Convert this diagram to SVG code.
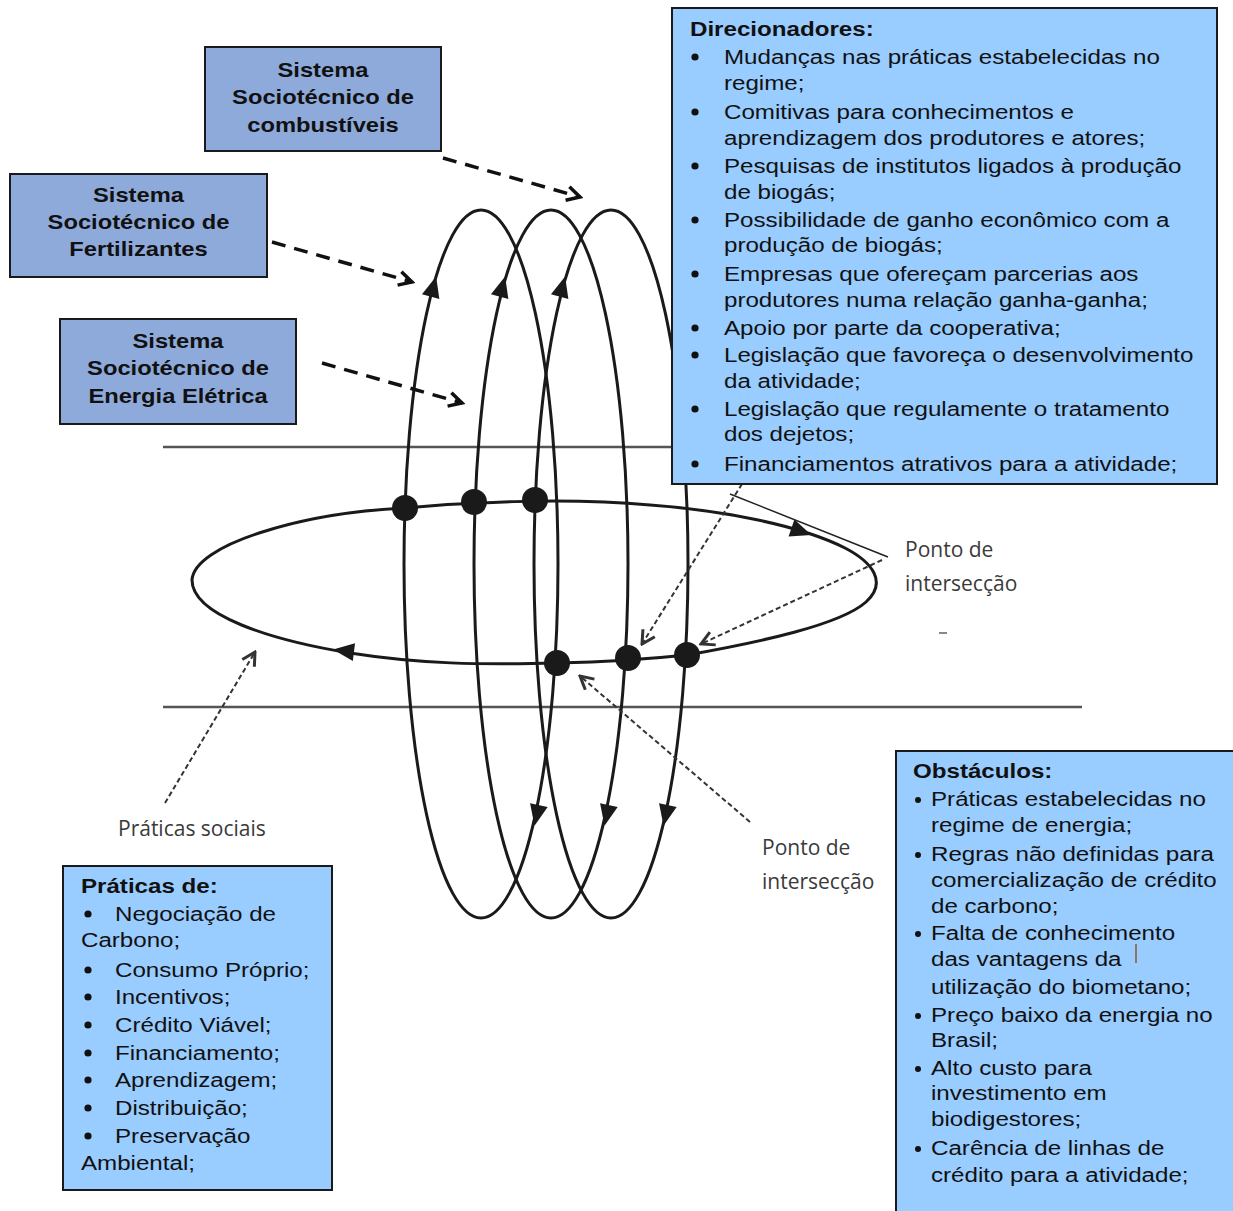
<svg xmlns="http://www.w3.org/2000/svg" xmlns:xlink="http://www.w3.org/1999/xlink" width="1233" height="1211" viewBox="0 0 1233 1211">
<style>
.sys{fill:#8EAADB;stroke:#1a1a1a;stroke-width:2}
.info{fill:#99CCFF;stroke:#1a1a1a;stroke-width:2}
.st{font-family:"Liberation Sans",Arial,sans-serif;font-size:21px;font-weight:bold;fill:#111;text-anchor:middle}
.tx{font-family:"Liberation Sans",Arial,sans-serif;font-size:21px;fill:#111}
.tb{font-family:"Liberation Sans",Arial,sans-serif;font-size:21px;font-weight:bold;fill:#111}
.lb{font-family:"Open Sans","Noto Sans",sans-serif;font-size:21px;fill:#3a3a3a}
.loop{fill:none;stroke:#1a1a1a;stroke-width:3}
.hline{stroke:#555;stroke-width:2.5}
.bigdash{fill:none;stroke:#111;stroke-width:3.5;stroke-dasharray:14 9;marker-end:url(#chevBig)}
.thindash{fill:none;stroke:#333;stroke-width:2;stroke-dasharray:5 3;marker-end:url(#chev)}
.dot{fill:#1a1a1a}
.bul{fill:#111}
</style>
<defs>
<marker id="chevBig" viewBox="0 0 20 20" refX="17" refY="10" markerWidth="20" markerHeight="20" markerUnits="userSpaceOnUse" orient="auto">
<path d="M4,3 L17,10 L4,17" fill="none" stroke="#111" stroke-width="3.5" stroke-dasharray="none"/>
</marker>
<marker id="chev" viewBox="0 0 18 18" refX="16" refY="9" markerWidth="18" markerHeight="18" markerUnits="userSpaceOnUse" orient="auto">
<path d="M3,2 L16,9 L3,16" fill="none" stroke="#333" stroke-width="3" stroke-dasharray="none"/>
</marker>
<path id="tri" d="M0,-12 L9,9 L-9,9 Z" fill="#1a1a1a"/>
</defs>
<rect width="1233" height="1211" fill="#fff"/>

<g id="plane-lines">
<line class="hline" x1="163" y1="447" x2="680" y2="447"/>
<line class="hline" x1="163" y1="707" x2="1082" y2="707"/>
</g>

<g id="loops">
<ellipse class="loop" cx="481" cy="564" rx="77" ry="354"/>
<ellipse class="loop" cx="551" cy="564" rx="77" ry="354"/>
<ellipse class="loop" cx="611" cy="564" rx="77" ry="354"/>
<path class="loop" d="M192,580 C194,545 300,513 405,508 C460,503 560,497 650,505 C720,510 800,525 845,548 C872,562 888,582 866,602 C840,625 760,642 687,655 C640,660 600,662 557,663 C480,665 420,664 350,653 C270,640 192,615 192,580 Z"/>
<use xlink:href="#tri" transform="translate(433,288) rotate(15)"/>
<use xlink:href="#tri" transform="translate(502,288) rotate(15)"/>
<use xlink:href="#tri" transform="translate(562,288) rotate(15)"/>
<use xlink:href="#tri" transform="translate(537,814) rotate(192)"/>
<use xlink:href="#tri" transform="translate(607,814) rotate(192)"/>
<use xlink:href="#tri" transform="translate(666,814) rotate(192)"/>
<use xlink:href="#tri" transform="translate(800,531) rotate(109)"/>
<use xlink:href="#tri" transform="translate(345,651) rotate(-83)"/>
<circle class="dot" cx="405" cy="508" r="13"/>
<circle class="dot" cx="474" cy="502" r="13"/>
<circle class="dot" cx="535" cy="500" r="13"/>
<circle class="dot" cx="557" cy="663" r="13"/>
<circle class="dot" cx="628" cy="658" r="13"/>
<circle class="dot" cx="687" cy="655" r="13"/>
</g>

<g id="connectors">
<line class="bigdash" x1="443" y1="158" x2="580" y2="197"/>
<line class="bigdash" x1="272" y1="242" x2="412" y2="282"/>
<line class="bigdash" x1="322" y1="363" x2="462" y2="403"/>
<line x1="730" y1="494" x2="888" y2="557" stroke="#222" stroke-width="1.5"/>
<line class="thindash" x1="882" y1="560" x2="701" y2="644"/>
<line class="thindash" x1="742" y1="484" x2="642" y2="644"/>
<line class="thindash" x1="750" y1="822" x2="580" y2="676"/>
<line class="thindash" x1="165" y1="803" x2="255" y2="652"/>
</g>

<g id="sys-combustiveis">
<rect class="sys" x="205" y="47" width="236" height="104"/>
<g transform="translate(323,0) scale(1.13,1)">
<text class="st" x="0" y="77">Sistema</text>
<text class="st" x="0" y="104">Sociotécnico de</text>
<text class="st" x="0" y="132">combustíveis</text>
</g>
</g>

<g id="sys-fertilizantes">
<rect class="sys" x="10" y="174" width="257" height="103"/>
<g transform="translate(138.5,0) scale(1.13,1)">
<text class="st" x="0" y="202">Sistema</text>
<text class="st" x="0" y="229">Sociotécnico de</text>
<text class="st" x="0" y="256">Fertilizantes</text>
</g>
</g>

<g id="sys-energia">
<rect class="sys" x="60" y="319" width="236" height="105"/>
<g transform="translate(178,0) scale(1.13,1)">
<text class="st" x="0" y="348">Sistema</text>
<text class="st" x="0" y="375">Sociotécnico de</text>
<text class="st" x="0" y="403">Energia Elétrica</text>
</g>
</g>

<g id="direcionadores">
<rect class="info" x="672" y="8" width="545" height="476"/>
<circle class="bul" cx="695" cy="57" r="3.6"/>
<circle class="bul" cx="695" cy="112" r="3.6"/>
<circle class="bul" cx="695" cy="166" r="3.6"/>
<circle class="bul" cx="695" cy="220" r="3.6"/>
<circle class="bul" cx="695" cy="274" r="3.6"/>
<circle class="bul" cx="695" cy="328" r="3.6"/>
<circle class="bul" cx="695" cy="355" r="3.6"/>
<circle class="bul" cx="695" cy="409" r="3.6"/>
<circle class="bul" cx="695" cy="464" r="3.6"/>
<g transform="translate(724,0) scale(1.15,1)">
<text class="tb" x="-29.6" y="36">Direcionadores:</text>
<text class="tx" x="0" y="64">Mudanças nas práticas estabelecidas no</text>
<text class="tx" x="0" y="90">regime;</text>
<text class="tx" x="0" y="119">Comitivas para conhecimentos e</text>
<text class="tx" x="0" y="145">aprendizagem dos produtores e atores;</text>
<text class="tx" x="0" y="173">Pesquisas de institutos ligados à produção</text>
<text class="tx" x="0" y="199">de biogás;</text>
<text class="tx" x="0" y="227">Possibilidade de ganho econômico com a</text>
<text class="tx" x="0" y="252">produção de biogás;</text>
<text class="tx" x="0" y="281">Empresas que ofereçam parcerias aos</text>
<text class="tx" x="0" y="307">produtores numa relação ganha-ganha;</text>
<text class="tx" x="0" y="335">Apoio por parte da cooperativa;</text>
<text class="tx" x="0" y="362">Legislação que favoreça o desenvolvimento</text>
<text class="tx" x="0" y="388">da atividade;</text>
<text class="tx" x="0" y="416">Legislação que regulamente o tratamento</text>
<text class="tx" x="0" y="441">dos dejetos;</text>
<text class="tx" x="0" y="471">Financiamentos atrativos para a atividade;</text>
</g>
</g>

<g id="obstaculos">
<rect class="info" x="896" y="751" width="345" height="470"/>
<circle class="bul" cx="918" cy="800" r="3"/>
<circle class="bul" cx="918" cy="855" r="3"/>
<circle class="bul" cx="918" cy="934" r="3"/>
<circle class="bul" cx="918" cy="1016" r="3"/>
<circle class="bul" cx="918" cy="1069" r="3"/>
<circle class="bul" cx="918" cy="1149" r="3"/>
<g transform="translate(931,0) scale(1.15,1)">
<text class="tb" x="-15.7" y="778">Obstáculos:</text>
<text class="tx" x="0" y="806">Práticas estabelecidas no</text>
<text class="tx" x="0" y="832">regime de energia;</text>
<text class="tx" x="0" y="861">Regras não definidas para</text>
<text class="tx" x="0" y="887">comercialização de crédito</text>
<text class="tx" x="0" y="913">de carbono;</text>
<text class="tx" x="0" y="940">Falta de conhecimento</text>
<text class="tx" x="0" y="966">das vantagens da</text>
<text class="tx" x="0" y="994">utilização do biometano;</text>
<text class="tx" x="0" y="1022">Preço baixo da energia no</text>
<text class="tx" x="0" y="1047">Brasil;</text>
<text class="tx" x="0" y="1075">Alto custo para</text>
<text class="tx" x="0" y="1100">investimento em</text>
<text class="tx" x="0" y="1126">biodigestores;</text>
<text class="tx" x="0" y="1155">Carência de linhas de</text>
<text class="tx" x="0" y="1182">crédito para a atividade;</text>
</g>
<line x1="1136" y1="944" x2="1136" y2="963" stroke="#8B5A2B" stroke-width="1.5"/>
</g>

<g id="praticas">
<rect class="info" x="63" y="866" width="269" height="324"/>
<circle class="bul" cx="88" cy="914" r="3.6"/>
<circle class="bul" cx="88" cy="970" r="3.6"/>
<circle class="bul" cx="88" cy="997" r="3.6"/>
<circle class="bul" cx="88" cy="1025" r="3.6"/>
<circle class="bul" cx="88" cy="1053" r="3.6"/>
<circle class="bul" cx="88" cy="1080" r="3.6"/>
<circle class="bul" cx="88" cy="1108" r="3.6"/>
<circle class="bul" cx="88" cy="1136" r="3.6"/>
<g transform="translate(115,0) scale(1.15,1)">
<text class="tb" x="-29.6" y="893">Práticas de:</text>
<text class="tx" x="0" y="921">Negociação de</text>
<text class="tx" x="-29.6" y="947">Carbono;</text>
<text class="tx" x="0" y="977">Consumo Próprio;</text>
<text class="tx" x="0" y="1004">Incentivos;</text>
<text class="tx" x="0" y="1032">Crédito Viável;</text>
<text class="tx" x="0" y="1060">Financiamento;</text>
<text class="tx" x="0" y="1087">Aprendizagem;</text>
<text class="tx" x="0" y="1115">Distribuição;</text>
<text class="tx" x="0" y="1143">Preservação</text>
<text class="tx" x="-29.6" y="1170">Ambiental;</text>
</g>
</g>

<g id="label-ponto-1">
<text class="lb" x="905" y="557">Ponto de</text>
<text class="lb" x="905" y="591">intersecção</text>
<line x1="939" y1="633" x2="947" y2="633" stroke="#888" stroke-width="2"/>
</g>
<g id="label-ponto-2">
<text class="lb" x="762" y="855">Ponto de</text>
<text class="lb" x="762" y="889">intersecção</text>
</g>
<g id="label-praticas-sociais">
<text class="lb" x="118" y="836">Práticas sociais</text>
</g>
</svg>
